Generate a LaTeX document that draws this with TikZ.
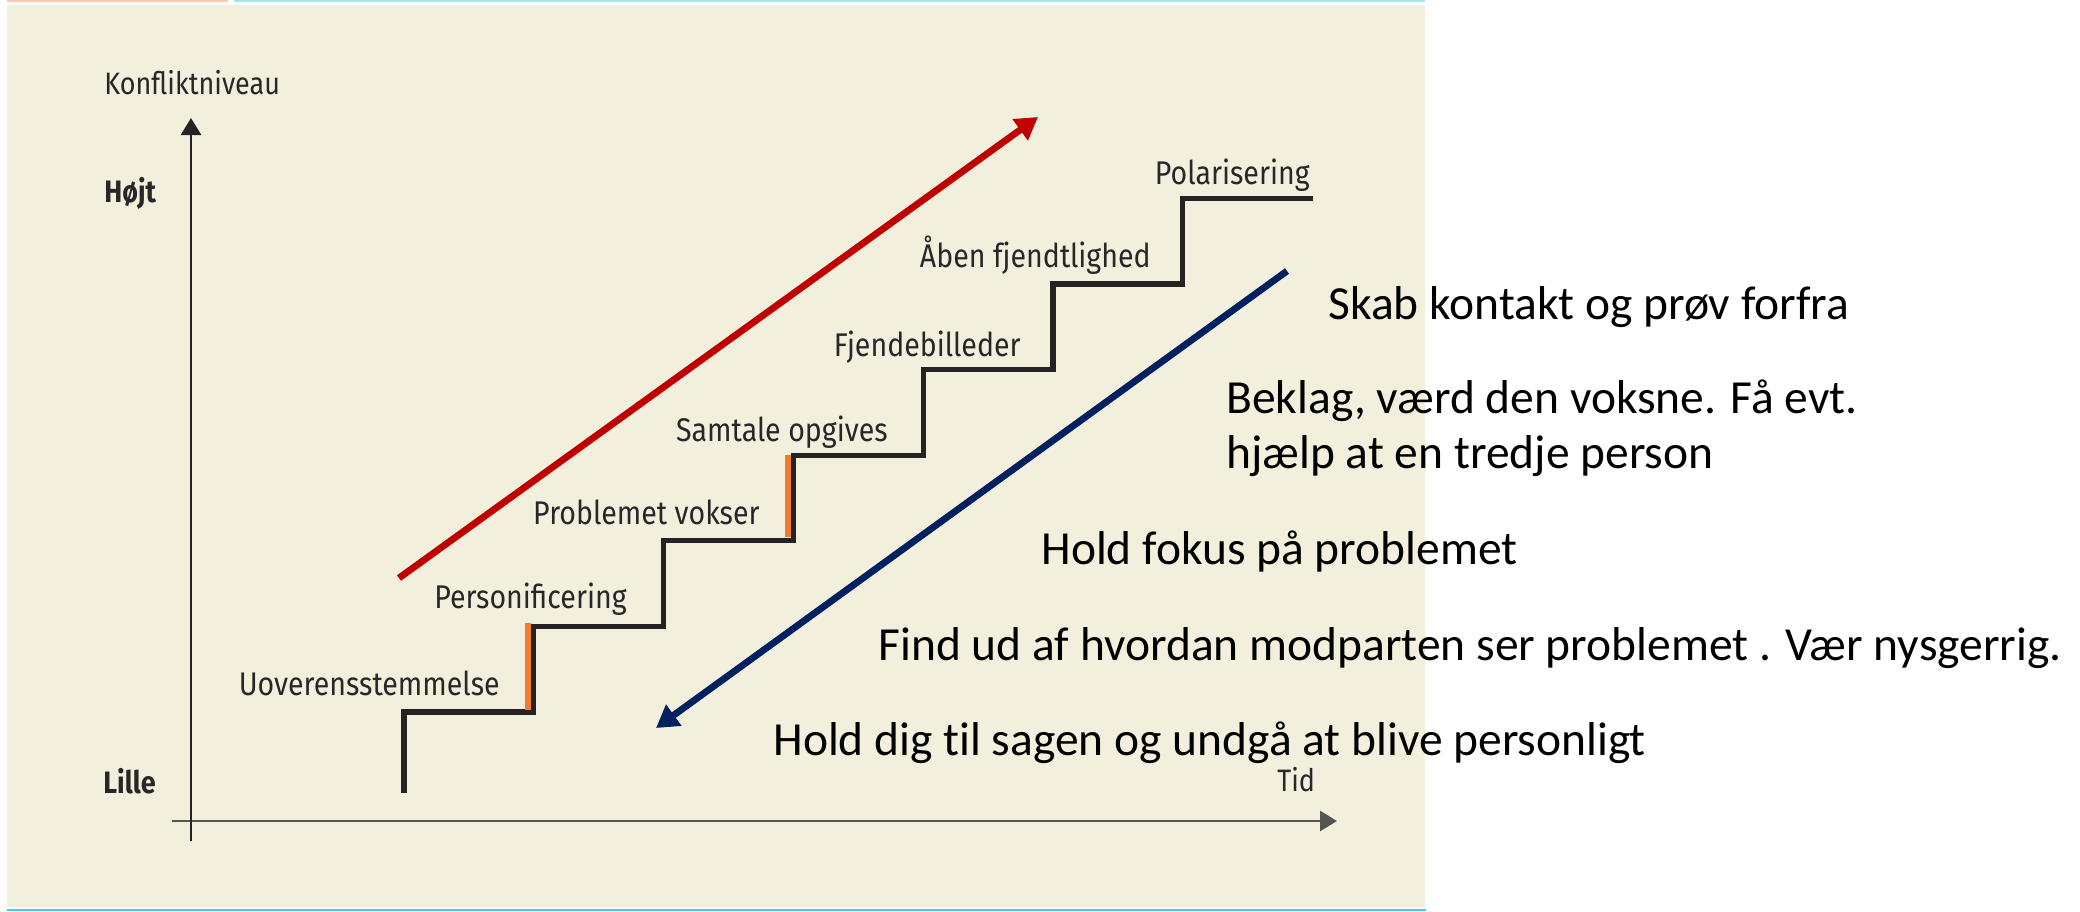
\documentclass[tikz,border=0pt]{standalone}
\usepackage{fontspec}
\setmainfont[Ligatures={NoCommon}]{Carlito}
\newfontfamily\labfont[FakeStretch=0.87]{Fira Sans}
\usetikzlibrary{arrows.meta}
\definecolor{bg}{RGB}{242,240,221}
\definecolor{labtext}{RGB}{40,38,40}
\definecolor{stairc}{RGB}{38,34,35}
\definecolor{riserorange}{RGB}{240,124,44}
\definecolor{upred}{RGB}{192,0,0}
\definecolor{downblue}{RGB}{0,32,96}
\definecolor{peach}{RGB}{248,203,173}
\definecolor{lightcyan}{RGB}{169,228,234}
\definecolor{cyanline}{RGB}{80,196,216}
\definecolor{axisgrey}{RGB}{85,85,85}
\begin{document}
\begin{tikzpicture}[x=0.5pt,y=-0.5pt,
  steplab/.style={anchor=base east, inner sep=0, text=labtext, font=\labfont\fontsize{16.4}{19}\selectfont},
  axlab/.style={anchor=base west, inner sep=0, text=labtext, font=\labfont\fontsize{15.5}{18}\selectfont},
  boldlab/.style={anchor=base west, inner sep=0, text=labtext, font=\labfont\bfseries\fontsize{15.5}{18}\selectfont},
  tiptext/.style={anchor=base west, inner sep=0, text=black, font=\fontsize{23.75}{28}\selectfont},
  stairline/.style={draw=stairc, line width=2.6pt, line join=miter},
  bigarrow/.style={line width=3.4pt, -{Triangle[length=11pt,width=12.5pt]}},
  axisline/.style={line width=1.4pt, -{Triangle[length=8.5pt,width=10pt]}}]
\useasboundingbox (0,0) rectangle (2080,911);
% background and frame lines
\fill[bg] (7,5) rectangle (1425,907);
\fill[peach] (7,0) rectangle (228,2);
\fill[lightcyan] (234,0) rectangle (1425,2);
\fill[cyanline] (7,909) rectangle (1426,911);
% axes
\coordinate (yfoot) at (191,841);
\coordinate (ytip) at (191,118);
\coordinate (xfoot) at (172,821);
\coordinate (xtip) at (1337,821);
\draw[axisline, draw=axisgrey, fill=axisgrey] (xfoot) -- (xtip);
\draw[axisline, draw=stairc, fill=stairc] (yfoot) -- (ytip);
\node[axlab] (konf) at (104,94) {Konfliktniveau};
\node[boldlab] (hojt) at (104,202) {Højt};
\node[boldlab] (lille) at (103,793) {Lille};
\node[axlab] (tid) at (1277,791) {Tid};
% staircase
\draw[stairline] (404,793) |- (533.8,712) |- (663.6,626.4) |- (793.4,540.8) |- (923.2,455.2)
  |- (1053,369.6) |- (1182.8,284) |- (1312.6,198.4);
\fill[riserorange] (525,623) rectangle (531.2,710);
\fill[riserorange] (784.8,455) rectangle (790.9,537);
% step labels
\node[steplab] (s1) at (500,695) {Uoverensstemmelse};
\node[steplab] (s2) at (627,608) {Personificering};
\node[steplab] (s3) at (760,524) {Problemet vokser};
\node[steplab] (s4) at (888,441) {Samtale opgives};
\node[steplab] (s5) at (1021,356) {Fjendebilleder};
\node[steplab] (s6) at (1151,267) {Åben fjendtlighed};
\node[steplab] (s7) at (1310,184) {Polarisering};
% escalation / de-escalation arrows
\coordinate (redstart) at (399,578);
\coordinate (redtip) at (1038,117);
\coordinate (bluestart) at (1287,271);
\coordinate (bluetip) at (656,728);
\draw[bigarrow, draw=upred, fill=upred] (redstart) -- (redtip);
\draw[bigarrow, draw=downblue, fill=downblue] (bluestart) -- (bluetip);
% advice texts
\node[tiptext] (t1) at (1328,319) {Skab kontakt og prøv forfra};
\node[tiptext] (t2) at (1226,413) {Beklag, værd den voksne. Få evt.};
\node[tiptext] (t3) at (1226,468) {hjælp at en tredje person};
\node[tiptext] (t4) at (1041,564) {Hold fokus på problemet};
\node[tiptext] (t5) at (878,660) {Find ud af hvordan modparten ser problemet . Vær nysgerrig.};
\node[tiptext] (t6) at (773,755) {Hold dig t\kern0pt il sagen og undgå at blive personligt};
\end{tikzpicture}
\end{document}
